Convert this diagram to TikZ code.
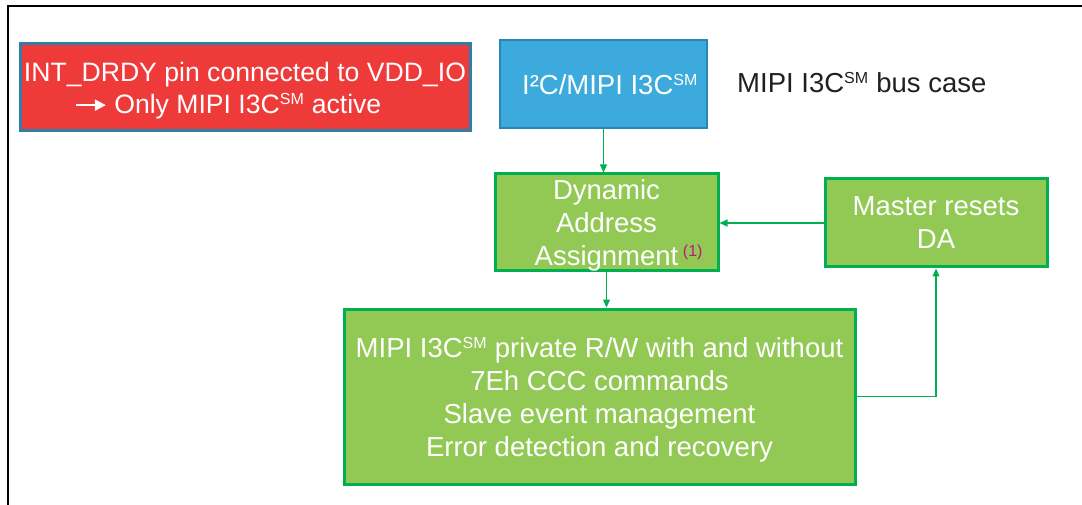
\documentclass[tikz,border=0pt]{standalone}
\usepackage{fontspec}
\setmainfont{Liberation Sans}
\usetikzlibrary{arrows.meta}
\definecolor{redfill}{HTML}{EF3A3A}
\definecolor{redline}{HTML}{2F7FA6}
\definecolor{bluefill}{HTML}{3CAADC}
\definecolor{blueline}{HTML}{2B86B5}
\definecolor{greenfill}{HTML}{92C955}
\definecolor{greenline}{HTML}{00B050}
\definecolor{notemag}{HTML}{C0157A}
\definecolor{darktext}{HTML}{231F20}
\def\sm{\textsuperscript{\fontsize{16}{16}\selectfont SM}}
\def\onlyarrow{\tikz[baseline=-8pt]\draw[white,line width=2.2pt,
  -{Triangle[length=11pt,width=11pt]}] (0pt,0pt) -- (30pt,0pt);}

\begin{document}
\begin{tikzpicture}[x=1pt,y=-1pt,
    box/.style={draw,align=center,inner sep=0pt,text=white,text depth=0pt,
      font=\fontsize{27.5}{33}\selectfont},
    greenbox/.style={box,fill=greenfill,draw=greenline,line width=3pt},
    link/.style={draw=greenline,line width=1.3pt,
      -{Triangle[length=8pt,width=7pt]}}
  ]
  \useasboundingbox (0,0) rectangle (1082,505);
  % outer frame
  \draw[line width=1.5pt] (8,505) -- (8,6) -- (1082,6);

  % top row
  \node[box,fill=redfill,draw=redline,line width=3pt,
    font=\fontsize{26.6}{32}\selectfont,
    minimum width=450pt,minimum height=87pt] (pin) at (245,87.5)
    {INT\_DRDY pin connected to VDD\_IO\\
     \onlyarrow\ Only MIPI I3C\sm{} active\hspace*{34pt}};
  \node[box,fill=bluefill,draw=blueline,line width=2pt,
    minimum width=207pt,minimum height=88pt] (bus) at (603.5,84)
    {\hspace*{13pt}I²C/MIPI I3C\sm};
  \node[anchor=west,text=darktext,inner sep=0pt,
    font=\fontsize{27.5}{33}\selectfont] (case) at (737,83)
    {MIPI I3C\sm{} bus case};

  % flow boxes
  \node[greenbox,minimum width=223pt,minimum height=97pt] (daa)
    at (606.5,222.5)
    {Dynamic\\Address\\Assignment\rlap{\,\textsuperscript{\color{notemag}\fontsize{16}{16}\selectfont(1)}}};
  \node[greenbox,minimum width=222pt,minimum height=88pt] (reset)
    at (936,223) {Master resets\\DA};
  \node[greenbox,minimum width=511pt,minimum height=175pt] (priv)
    at (599.5,396.5)
    {MIPI I3C\sm{} private R/W with and without\\
     7Eh CCC commands\\
     Slave event management\\
     Error detection and recovery};

  % connectors
  \draw[link] (bus.south) -- (bus.south |- daa.north);
  \draw[link] (daa.south) -- (daa.south |- priv.north);
  \draw[link] (reset.west) -- (reset.west -| daa.east);
  \draw[link] (priv.east) -| (reset.south);
\end{tikzpicture}
\end{document}
